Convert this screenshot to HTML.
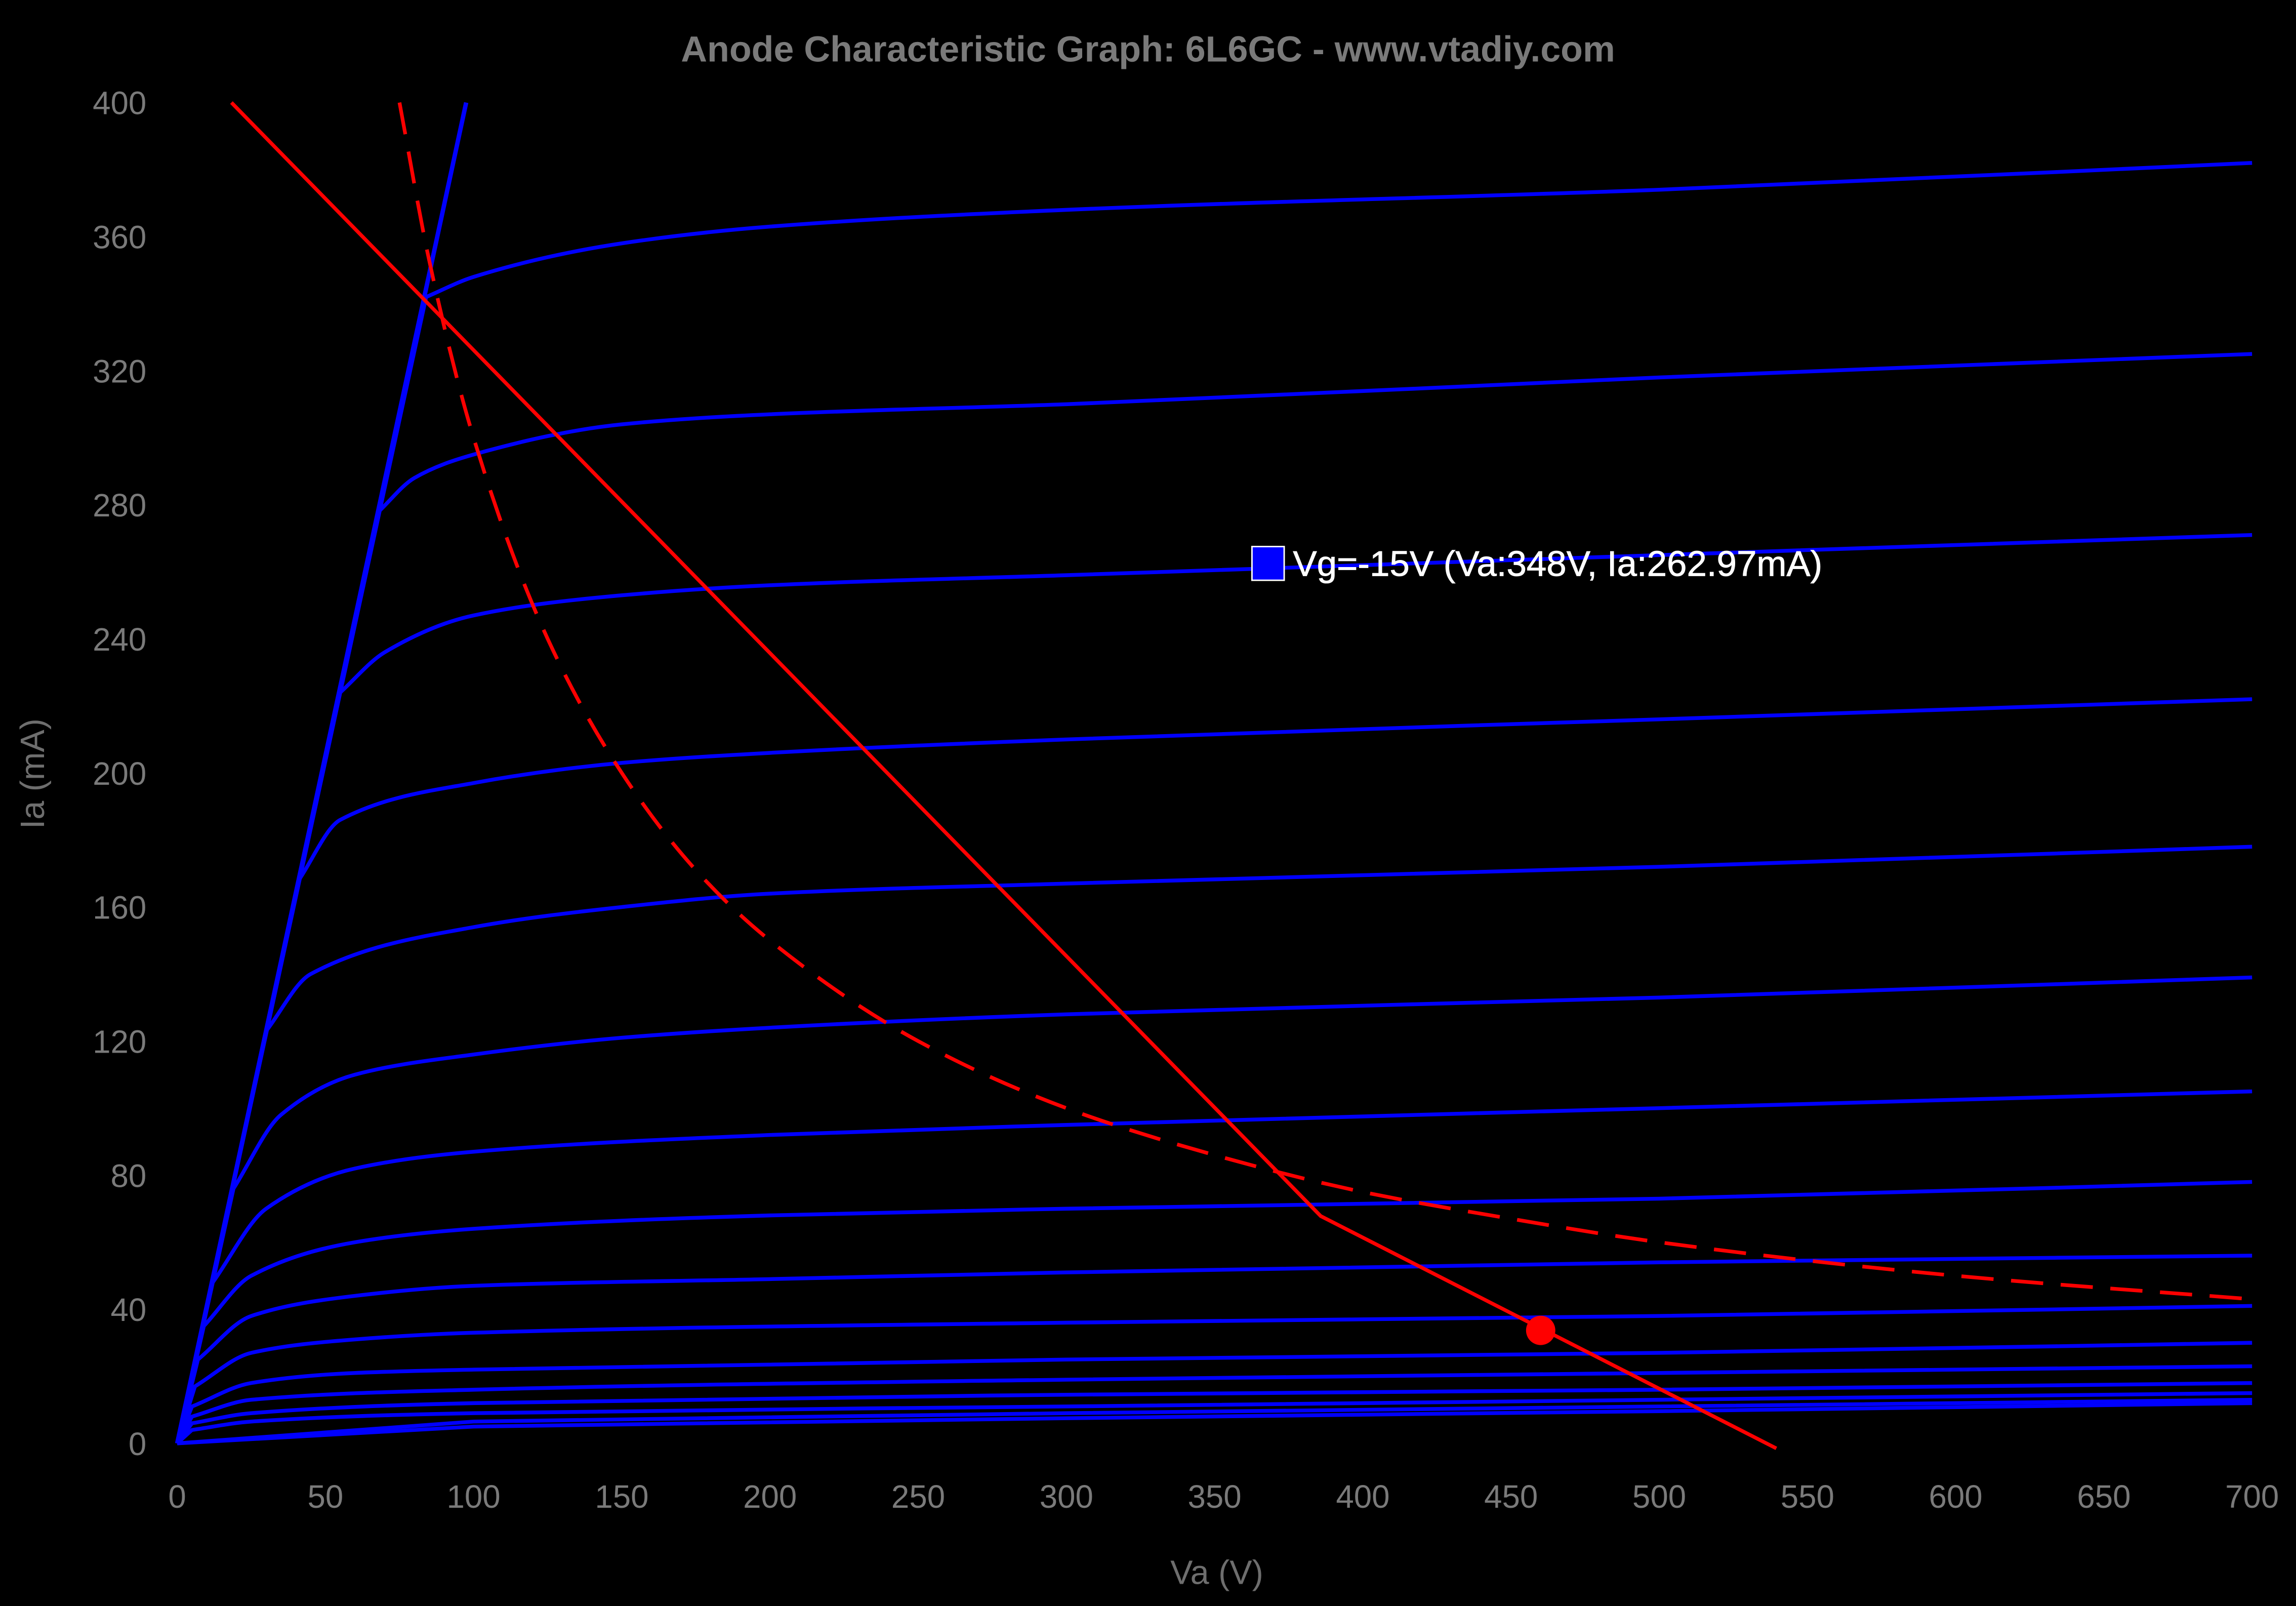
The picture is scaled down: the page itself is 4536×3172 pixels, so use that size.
<!DOCTYPE html>
<html><head><meta charset="utf-8"><style>
html,body{margin:0;padding:0;background:#000;}
svg{display:block;}
text{font-family:"Liberation Sans",sans-serif;}
</style></head><body>
<svg id="chart" xmlns="http://www.w3.org/2000/svg" width="4536" height="3172" viewBox="0 0 1568 1096" preserveAspectRatio="none">
<rect x="0" y="0" width="1568" height="1096" fill="#000"/>
<text x="784" y="42" text-anchor="middle" font-size="24.8" font-weight="bold" fill="#7a7a7a">Anode Characteristic Graph: 6L6GC - www.vtadiy.com</text>
<g id="yticks"></g>
<g id="xticks"></g>
<text x="831" y="1081" text-anchor="middle" font-size="23" fill="#6e6e6e">Va (V)</text>
<text x="0" y="0" transform="translate(30,528) rotate(-90)" text-anchor="middle" font-size="23" fill="#6e6e6e">Ia (mA)</text>
<g id="series"></g>
<g>
<rect x="855" y="373" width="22" height="23" fill="#0000ff" stroke="#fff" stroke-width="1"/>
<text x="883" y="393" font-size="24.5" fill="#fff" stroke="#fff" stroke-width="0.3">Vg=-15V (Va:348V, Ia:262.97mA)</text>
</g>
</svg>
<script>
const xTicks=[0,50,100,150,200,250,300,350,400,450,500,550,600,650,700];
const yTicks=[0,40,80,120,160,200,240,280,320,360,400];
const curveVa=[
[0,84,100,150,200,300,500,700],
[0,68,80,100,150,200,300,500,700],
[0,55,70,100,150,200,300,500,700],
[0,41,55,100,150,200,300,500,700],
[0,30,45,100,150,200,300,500,700],
[0,19,35,60,100,150,200,300,500,700],
[0,12,30,60,100,200,300,500,700],
[0,9,25,60,100,200,300,500,700],
[0,7,25,60,100,200,300,500,700],
[0,6,25,60,100,300,500,700],
[0,5,25,60,100,300,500,700],
[0,5,25,100,300,500,700],
[0,5,25,100,300,500,700],
[0,5,25,100,300,500,700],
[0,100,300,500,700],
[0,100,300,500,700]];
const curveIa=[
[0,342,348,358,363,368,374,382],
[0,278,288,295,304,307,310,318,325],
[0,224,236,247,253,256,259,265,271],
[0,168,186,197,203,206,210,216,222],
[0,123,140,154,160,164,167,172,178],
[0,76,98,110,116,121,124,128,133,139],
[0,48,70,82,87,92,95,100,105],
[0,35,50,60,64,68,70,73,78],
[0,25,38,44,47,49,51,54,56],
[0,17,27,31,33,36,38,41],
[0,11,18,21,22,25,27,30],
[0,8,13,16,19,21,23],
[0,6,9,12,14.5,16,18],
[0,4,6.5,9,11,13,15],
[0,6.5,9,11,13],
[0,5,7.5,9.6,12]];
const limitVa=[0,97.5];
const limitIa=[0,400];
const loadVa=[18.3,385.8,539.5];
const loadIa=[400,67.8,-1.5];
const powerVa=[75,85,100,125,150,175,200,250,300,350,400,450,500,600,700];
const powerIa=[400,353,300,240,200,171,150,120,100,86,75,67,60,50,43];
const opVa=[460];
const opIa=[33.7];

const NS='http://www.w3.org/2000/svg';
const X=v=>121+v*(1538-121)/700;
const Y=v=>985-v*(985-70)/400;
function monotone(xs,ys,move){
  const px=xs.map(X),py=ys.map(Y),n=px.length;
  const dx=[],s=[];
  for(let i=0;i<n-1;i++){dx[i]=px[i+1]-px[i];s[i]=(py[i+1]-py[i])/dx[i];}
  const m=[s[0]];
  for(let i=1;i<n-1;i++){
    if(s[i-1]*s[i]<=0)m[i]=0;
    else{const w1=2*dx[i]+dx[i-1],w2=dx[i]+2*dx[i-1];m[i]=(w1+w2)/(w1/s[i-1]+w2/s[i]);}
  }
  m[n-1]=s[n-2];
  let d=(move?'M':'L')+px[0]+','+py[0];
  for(let i=0;i<n-1;i++){
    const h=dx[i]/3;
    d+=' C'+(px[i]+h)+','+(py[i]+m[i]*h)+' '+(px[i+1]-h)+','+(py[i+1]-m[i+1]*h)+' '+px[i+1]+','+py[i+1];
  }
  return d;
}
function curvePath(va,ia){
  return 'M'+X(va[0])+','+Y(ia[0])+' '+monotone(va.slice(1),ia.slice(1),false);
}
function lin(xs,ys){return xs.map((x,i)=>(i?'L':'M')+X(x)+','+Y(ys[i])).join(' ');}
const yg=document.getElementById('yticks');
yTicks.forEach(v=>{const t=document.createElementNS(NS,'text');


t.setAttribute('x',100);t.setAttribute('y',Y(v)+8);t.setAttribute('text-anchor','end');
t.setAttribute('font-size','22');t.setAttribute('fill','#7a7a7a');t.textContent=v;yg.appendChild(t);});
const xg=document.getElementById('xticks');
xTicks.forEach(v=>{const t=document.createElementNS(NS,'text');


t.setAttribute('x',X(v));t.setAttribute('y',1029);t.setAttribute('text-anchor','middle');
t.setAttribute('font-size','22');t.setAttribute('fill','#7a7a7a');t.textContent=v;xg.appendChild(t);});
const sg=document.getElementById('series');
function path(d,stroke,w,dash,name){const p=document.createElementNS(NS,'path');


p.setAttribute('d',d);p.setAttribute('fill','none');p.setAttribute('stroke',stroke);p.setAttribute('stroke-width',w);
if(dash)p.setAttribute('stroke-dasharray',dash);sg.appendChild(p);}
curveVa.forEach((va,i)=>path(curvePath(va,curveIa[i]),'#0000ff',2.6,null,'grid-curve'));
path(lin(limitVa,limitIa),'#0000ff',3,null,'knee-line');
path(monotone(powerVa,powerIa,true),'#ff0000',2.5,'22,12','max-dissipation-curve');
path(lin(loadVa,loadIa),'#ff0000',2.5,null,'load-line');
opVa.forEach((v,i)=>{const c=document.createElementNS(NS,'circle');


c.setAttribute('cx',X(v));c.setAttribute('cy',Y(opIa[i]));c.setAttribute('r',10);c.setAttribute('fill','#ff0000');sg.appendChild(c);});
</script>
</body></html>
